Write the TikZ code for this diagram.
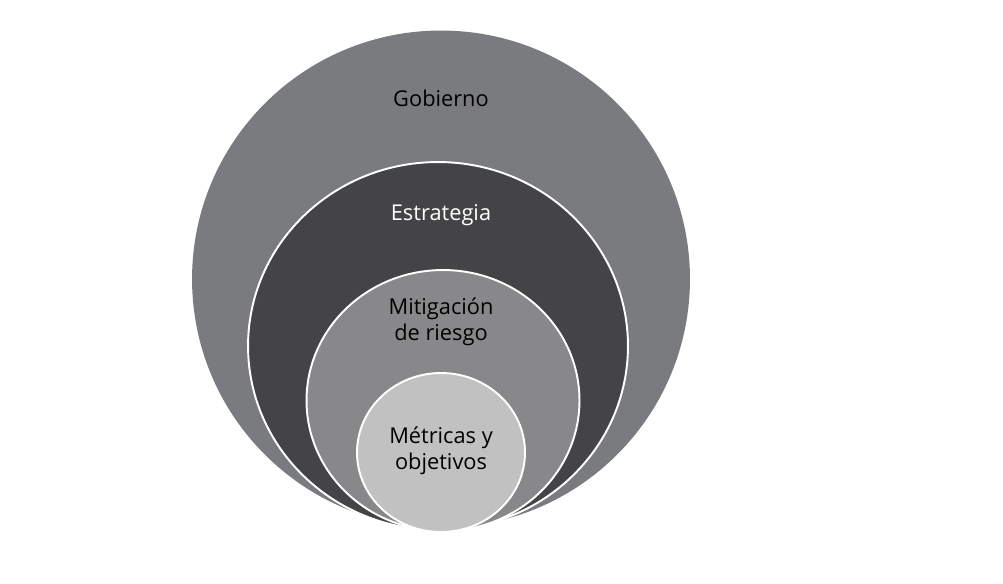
\documentclass[tikz,border=0pt]{standalone}
\usepackage{fontspec}
\setmainfont{Open Sans}
\usetikzlibrary{shapes.geometric}
\definecolor{gobgray}{RGB}{121,123,127}
\definecolor{estgray}{RGB}{68,68,70}
\definecolor{mitgray}{RGB}{136,136,138}
\definecolor{metgray}{RGB}{193,193,193}
\tikzset{ring/.style={ellipse, inner sep=0pt, draw=white, line width=1.1pt},
    ringlabel/.style={font=\fontsize{12.4}{15}\selectfont, align=center, text=black}}

\begin{document}
\begin{tikzpicture}[x=0.02cm,y=-0.02cm]
\useasboundingbox[fill=white] (0,0) rectangle (1003,584);
% nested rings, all touching at the bottom
\node[ring, draw=none, fill=gobgray, minimum width=9.96cm, minimum height=9.94cm] (gob) at (441,279) {};
\node[ring, fill=estgray, minimum width=7.6cm, minimum height=7.36cm] (est) at (438,346) {};
\node[ring, fill=mitgray, minimum width=5.46cm, minimum height=5.22cm] (mit) at (443,400.5) {};
\node[ring, fill=metgray, minimum width=3.36cm, minimum height=3.18cm] (met) at (441,452.5) {};
% labels
\node[ringlabel] (gobtext) at (441,98) {Gobierno};
\node[ringlabel, text=white] (esttext) at (441,215) {Estrategia};
\node[ringlabel] (mittext) at (441,322) {Mitigación\\de riesgo};
\node[ringlabel] (mettext) at (441,451) {Métricas y\\objetivos};
\end{tikzpicture}
\end{document}
